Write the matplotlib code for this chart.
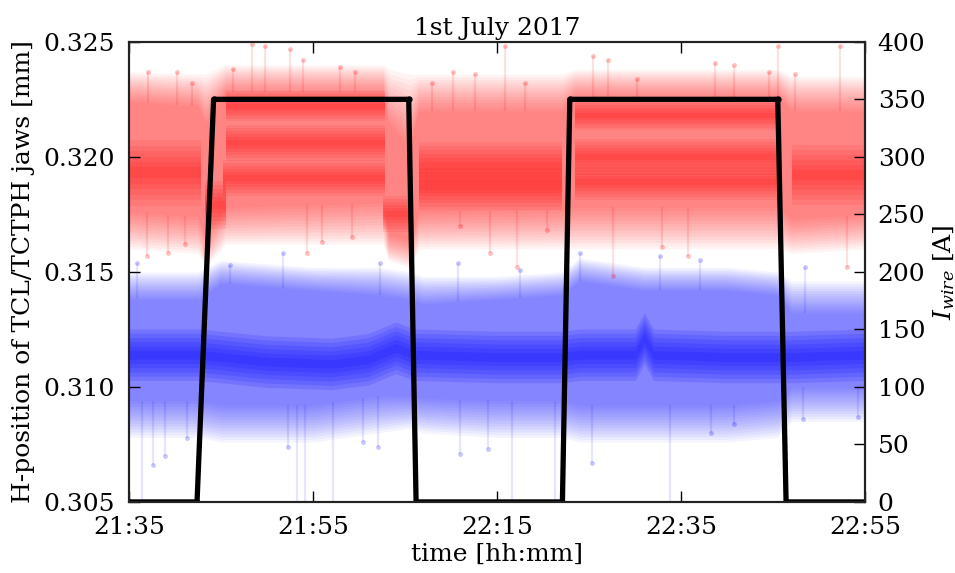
import numpy as np
import matplotlib
matplotlib.use("Agg")
import matplotlib.pyplot as plt

# ── Data (minutes after 21:35) ───────────────────────────────────────────────
TICK_MIN    = [0, 20, 40, 60, 80]
TICK_LABELS = ["21:35", "21:55", "22:15", "22:35", "22:55"]

# wire current
wire_t = [0, 7.4, 9.2, 30.4, 31.2, 47.1, 47.9, 70.5, 71.4, 80]
wire_i = [0, 0, 350, 350, 0, 0, 350, 350, 0, 0]

# red jaw (TCL) cloud envelope
red_t        = [0, 7.5, 8.3, 10.5, 27.6, 28.2, 30.5, 31.5, 47.0, 48.5, 70.5, 72.0, 80]
red_outer_hi = [0.3237, 0.3236, 0.3236, 0.3240, 0.3240, 0.3238, 0.3236, 0.3236, 0.3236, 0.3238, 0.3238, 0.3235, 0.3235]
red_core_hi  = [0.3224, 0.3222, 0.3215, 0.3228, 0.3228, 0.3215, 0.3205, 0.3220, 0.3220, 0.3226, 0.3226, 0.3220, 0.3220]
red_core_lo  = [0.3176, 0.3174, 0.3166, 0.3178, 0.3180, 0.3166, 0.3164, 0.3176, 0.3177, 0.3178, 0.3178, 0.3173, 0.3175]
red_outer_lo = [0.3160, 0.3158, 0.3152, 0.3162, 0.3162, 0.3155, 0.3152, 0.3160, 0.3160, 0.3160, 0.3160, 0.3158, 0.3160]

# red dense sub-bands
red_band_t0     = [0, 8.3, 10.5, 10.5, 10.2, 27.6, 31.5, 31.5, 48.5, 48.5, 48.5, 72.0]
red_band_t1     = [7.8, 10.5, 27.8, 27.8, 27.8, 30.5, 47.0, 47.0, 70.5, 70.5, 70.5, 80]
red_band_level  = [0.3193, 0.3179, 0.3222, 0.3206, 0.3191, 0.3175, 0.3196, 0.3186, 0.3218, 0.3200, 0.3189, 0.3192]
red_band_spread = [0.0011, 0.0008, 0.0005, 0.0006, 0.0006, 0.0006, 0.0008, 0.0007, 0.0005, 0.0006, 0.0006, 0.0010]

# red outliers (time, value)
red_up_t   = [2.1, 5.2, 6.8, 11.3, 13.4, 14.8, 17.5, 18.9, 22.9, 24.6, 32.9, 35.2, 37.6,
              40.9, 43.0, 50.4, 52.0, 55.2, 63.7, 65.7, 69.5, 70.5, 72.4, 77.3]
red_up_v   = [0.3237, 0.3237, 0.3232, 0.3238, 0.3249, 0.3248, 0.3247, 0.3242, 0.3239, 0.3237,
              0.3232, 0.3237, 0.3236, 0.3248, 0.3232, 0.3244, 0.3242, 0.3234, 0.3241, 0.3240,
              0.3237, 0.3248, 0.3236, 0.3248]
red_dn_t   = [2.0, 4.2, 6.1, 19.3, 21.0, 24.2, 36.0, 39.2, 42.2, 45.4, 52.6, 57.9, 60.7, 78.0]
red_dn_v   = [0.3157, 0.3158, 0.3162, 0.3158, 0.3163, 0.3165, 0.3170, 0.3158, 0.3152, 0.3168,
              0.3148, 0.3161, 0.3157, 0.3152]

# blue jaw (TCTPH) cloud envelope
blue_t        = [0, 7.5, 10.0, 20.0, 27.0, 30.5, 32.0, 40.0, 47.0, 49.0, 56.0, 65.0, 70.5, 72.0, 80]
blue_outer_hi = [0.3150, 0.3150, 0.3155, 0.3152, 0.3152, 0.3150, 0.3148, 0.3148, 0.3150, 0.3156, 0.3152, 0.3152, 0.3150, 0.3146, 0.3146]
blue_core_hi  = [0.3138, 0.3138, 0.3145, 0.3142, 0.3140, 0.3138, 0.3136, 0.3138, 0.3140, 0.3146, 0.3142, 0.3142, 0.3140, 0.3132, 0.3132]
blue_core_lo  = [0.3094, 0.3094, 0.3092, 0.3092, 0.3096, 0.3096, 0.3095, 0.3094, 0.3094, 0.3092, 0.3092, 0.3092, 0.3094, 0.3100, 0.3100]
blue_outer_lo = [0.3078, 0.3078, 0.3076, 0.3076, 0.3080, 0.3082, 0.3080, 0.3078, 0.3078, 0.3076, 0.3076, 0.3076, 0.3078, 0.3085, 0.3085]

# blue dense centre line
blue_mid_t = [0, 7.5, 10, 15, 22, 26, 29, 31, 40, 47, 49, 55, 56, 57, 65, 70.5, 72, 80]
blue_mid   = [0.3114, 0.3114, 0.3113, 0.3111, 0.3110, 0.3112, 0.3117, 0.3114, 0.3113, 0.3113,
              0.3114, 0.3114, 0.3121, 0.3114, 0.3113, 0.3113, 0.3113, 0.3114]
blue_mid_spread = 0.0008

# blue outliers
blue_up_t = [0.9, 11.0, 16.7, 27.3, 35.7, 42.5, 49.0, 57.7, 62.1, 73.5]
blue_up_v = [0.3154, 0.3153, 0.3158, 0.3154, 0.3154, 0.3151, 0.3158, 0.3157, 0.3155, 0.3152]
blue_dn_t = [1.4, 2.6, 3.9, 6.3, 17.3, 18.3, 19.1, 22.2, 25.4, 27.1, 36.0, 39.0, 41.6,
             46.3, 50.3, 58.8, 63.2, 65.7, 73.2, 79.2]
blue_dn_v = [0.3045, 0.3066, 0.3070, 0.3078, 0.3074, 0.3045, 0.3045, 0.3045, 0.3076, 0.3074,
             0.3071, 0.3073, 0.3045, 0.3045, 0.3067, 0.3045, 0.3080, 0.3084, 0.3086, 0.3087]


# ── Style ────────────────────────────────────────────────────────────────────
plt.rcParams["font.family"] = ["DejaVu Serif"]
plt.rcParams["mathtext.fontset"] = "dejavuserif"

GRID_T = np.linspace(0, 80, 801)
RED, BLUE = "#ff0000", "#0000ff"


def draw_cloud(ax, t, outer_lo, core_lo, core_hi, outer_hi, color, n_layers=14, alpha=0.045):
    olo = np.interp(GRID_T, t, outer_lo)
    clo = np.interp(GRID_T, t, core_lo)
    chi = np.interp(GRID_T, t, core_hi)
    ohi = np.interp(GRID_T, t, outer_hi)
    for k in range(n_layers):
        f = k / (n_layers - 1)
        ax.fill_between(GRID_T, olo + (clo - olo) * f, ohi + (chi - ohi) * f,
                        color=color, alpha=alpha, lw=0)
    return clo, chi


def soft_band(ax, x, lo, hi, color, n=6, alpha=0.09):
    lo, hi = np.asarray(lo), np.asarray(hi)
    c, w = (lo + hi) / 2, (hi - lo) / 2
    for k in range(n):
        f = 1.0 - k / n
        ax.fill_between(x, c - w * f, c + w * f, color=color, alpha=alpha, lw=0)


def draw_spikes(ax, ts, vs, edge, color, line_alpha, dot_alpha):
    base = np.interp(ts, GRID_T, edge)
    ax.vlines(ts, base, vs, color=color, alpha=line_alpha, lw=1.6)
    ax.plot(ts, vs, "o", color=color, alpha=dot_alpha, ms=3.5, mew=0)


fig = plt.figure(figsize=(9.55, 5.73), dpi=100)
ax = fig.add_axes([0.135, 0.124, 0.771, 0.803])

# red cloud
r_lo, r_hi = draw_cloud(ax, red_t, red_outer_lo, red_core_lo, red_core_hi, red_outer_hi, RED)
for t0, t1, lv, sp in zip(red_band_t0, red_band_t1, red_band_level, red_band_spread):
    soft_band(ax, [t0, t1], [lv - sp * 1.3] * 2, [lv + sp * 1.3] * 2, RED)
draw_spikes(ax, red_up_t, red_up_v, r_hi, RED, 0.12, 0.25)
draw_spikes(ax, red_dn_t, red_dn_v, r_lo, RED, 0.12, 0.25)

# blue cloud
b_lo, b_hi = draw_cloud(ax, blue_t, blue_outer_lo, blue_core_lo, blue_core_hi, blue_outer_hi, BLUE)
mid = np.interp(GRID_T, blue_mid_t, blue_mid)
soft_band(ax, GRID_T, mid - blue_mid_spread * 1.4, mid + blue_mid_spread * 1.4, BLUE, n=6, alpha=0.13)
draw_spikes(ax, blue_up_t, blue_up_v, b_hi, BLUE, 0.10, 0.22)
draw_spikes(ax, blue_dn_t, blue_dn_v, b_lo, BLUE, 0.10, 0.22)

ax.set_xlim(0, 80)
ax.set_ylim(0.305, 0.325)
ax.set_yticks([0.305, 0.310, 0.315, 0.320, 0.325])
ax.set_yticklabels(["0.305", "0.310", "0.315", "0.320", "0.325"])
ax.set_xticks(TICK_MIN)
ax.set_xticklabels(TICK_LABELS)
ax.tick_params(axis="x", direction="in", top=True, length=8, width=1, labelsize=18, pad=10)
ax.tick_params(axis="y", direction="in", right=False, length=8, width=1, labelsize=18, pad=10)
ax.set_xlabel("time [hh:mm]", fontsize=18, labelpad=3)
ax.set_ylabel("H-position of TCL/TCTPH jaws [mm]", fontsize=18, labelpad=6)
ax.set_title("1st July 2017", fontsize=18, pad=5)

# wire current on twin axis
ax2 = ax.twinx()
ax2.plot(wire_t, wire_i, color="black", lw=3.8, marker="o", ms=3.5)
ax2.set_ylim(0, 400)
ax2.set_yticks(range(0, 401, 50))
ax2.tick_params(axis="y", direction="in", length=8, width=1, labelsize=18, pad=9)
ax2.set_ylabel(r"$I_{wire}$ [A]", fontsize=18, labelpad=4)

for a in (ax, ax2):
    for sp in a.spines.values():
        sp.set_linewidth(1.5)
        sp.set_color("#222222")

fig.savefig("out.png", dpi=100, facecolor="white")
